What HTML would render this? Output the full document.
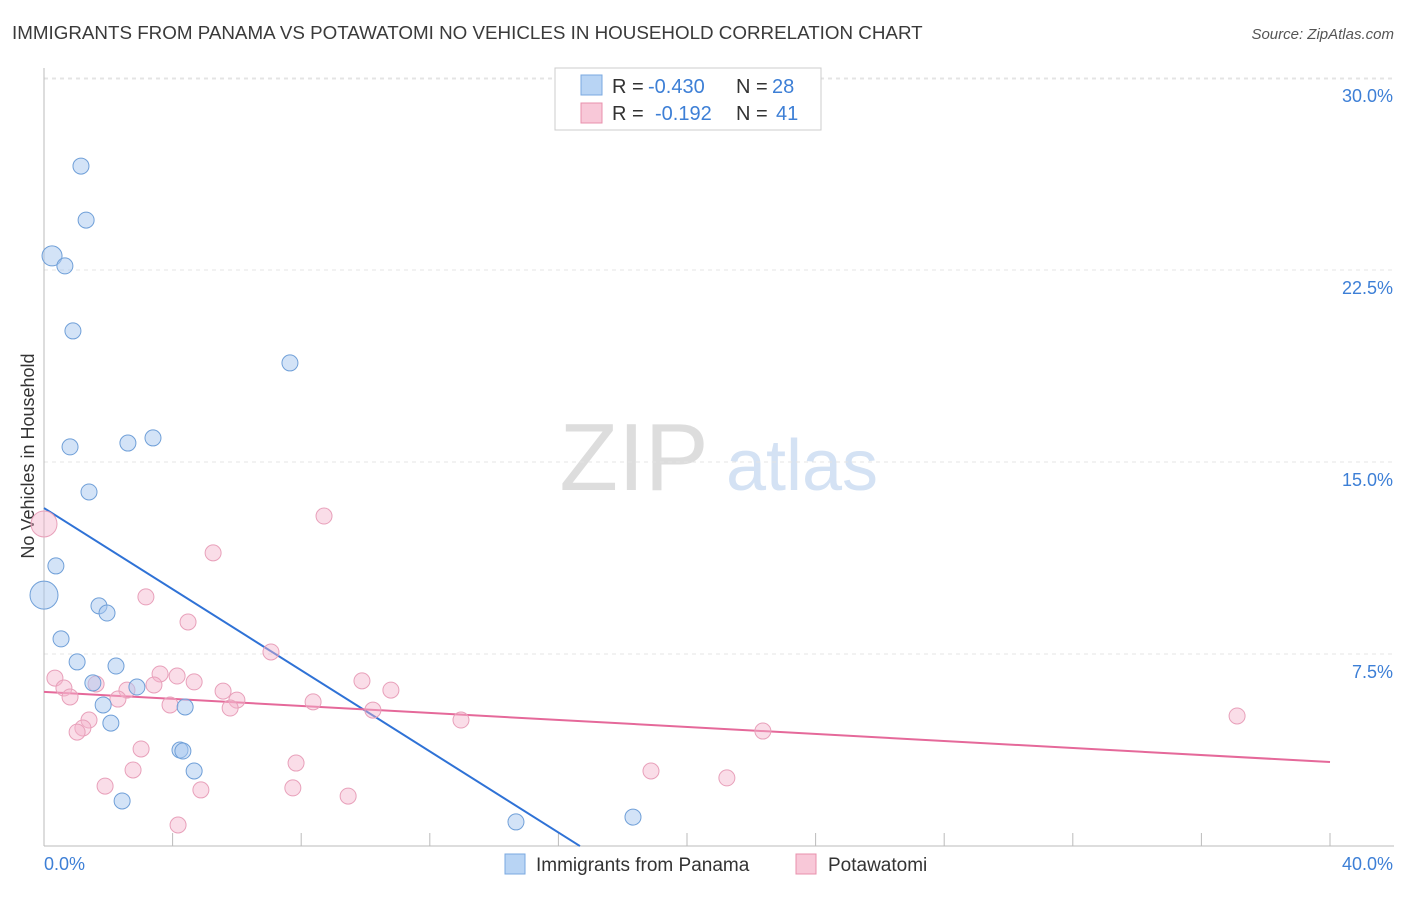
<!DOCTYPE html>
<html><head><meta charset="utf-8"><style>
body{margin:0;background:#fff;font-family:"Liberation Sans",sans-serif;}
svg text{font-family:"Liberation Sans",sans-serif;}
</style></head><body>
<svg id="chart" width="1406" height="892" viewBox="0 0 1406 892" xmlns="http://www.w3.org/2000/svg">
<text x="12" y="39" font-size="18.8" fill="#3a3a3a">IMMIGRANTS FROM PANAMA VS POTAWATOMI NO VEHICLES IN HOUSEHOLD CORRELATION CHART</text>
<text x="1394" y="39" font-size="15" fill="#555" text-anchor="end" font-style="italic">Source: ZipAtlas.com</text>
<text transform="translate(34,456) rotate(-90)" font-size="18" fill="#333" text-anchor="middle">No Vehicles in Household</text>
<g>
<text x="634" y="490" font-size="96" fill="#ddd" font-family="Liberation Serif" text-anchor="middle">ZIP</text>
<text x="802" y="490" font-size="72" fill="#d4e2f4" text-anchor="middle">atlas</text>
</g>
<g id="grid"></g><g id="axes"></g><g id="lines"></g><g id="pts"></g>
<g>
<rect x="555" y="68" width="266" height="62" fill="#fff" stroke="#ccc"/>
<rect x="581" y="75" width="21" height="20" fill="#b8d4f4" stroke="#7aa8e0"/>
<text x="612" y="93" font-size="20" fill="#333">R =</text>
<text x="648" y="93" font-size="20" fill="#3d7fd6">-0.430</text>
<text x="736" y="93" font-size="20" fill="#333">N =</text>
<text x="772" y="93" font-size="20" fill="#3d7fd6">28</text>
<rect x="581" y="103" width="21" height="20" fill="#f8c8d8" stroke="#e890ac"/>
<text x="612" y="120" font-size="20" fill="#333">R =</text>
<text x="655" y="120" font-size="20" fill="#3d7fd6">-0.192</text>
<text x="736" y="120" font-size="20" fill="#333">N =</text>
<text x="776" y="120" font-size="20" fill="#3d7fd6">41</text>
</g>
<g>
<rect x="505" y="854" width="20" height="20" fill="#b8d4f4" stroke="#7aa8e0"/>
<text x="536" y="871" font-size="19" fill="#333">Immigrants from Panama</text>
<rect x="796" y="854" width="20" height="20" fill="#f8c8d8" stroke="#e890ac"/>
<text x="828" y="871" font-size="19" fill="#333">Potawatomi</text>
</g>
</svg>
<script>
const yTicks=[7.5,15,22.5,30];
const yTickLabels=["7.5%","15.0%","22.5%","30.0%"];
const xTicks=[0,4,8,12,16,20,24,28,32,36,40];
const xEndLabels=["0.0%","40.0%"];
const blueX=[1.15,1.31,0.25,0.65,0.9,7.65,0.81,2.61,3.39,1.4,0.37,0,0.53,1.71,1.96,1.03,2.24,1.52,2.89,1.84,4.39,2.08,4.23,4.32,4.67,2.43,14.68,18.32];
const blueY=[26.56,24.45,23.05,22.66,20.12,18.87,15.59,15.74,15.94,13.83,10.94,9.8,8.09,9.38,9.1,7.19,7.03,6.37,6.21,5.51,5.43,4.8,3.75,3.71,2.93,1.76,0.94,1.13];
const blueR=[8,8,10,8,8,8,8,8,8,8,8,14,8,8,8,8,8,8,8,8,8,8,8,8,8,8,8,8];
const pinkX=[0,8.71,5.26,3.17,4.48,0.34,0.62,0.81,1.62,2.58,2.3,3.61,3.42,4.14,4.67,3.92,5.57,6.0,5.79,7.06,8.37,9.89,10.79,10.23,12.97,1.4,1.21,1.03,3.02,2.77,1.9,4.88,7.84,7.74,9.46,4.17,18.88,21.24,22.36,37.11];
const pinkY=[12.58,12.89,11.45,9.73,8.75,6.56,6.17,5.82,6.33,6.09,5.74,6.72,6.29,6.64,6.41,5.51,6.05,5.7,5.39,7.58,5.63,6.45,6.09,5.31,4.92,4.92,4.61,4.45,3.79,2.97,2.34,2.19,3.24,2.27,1.95,0.82,2.93,2.66,4.49,5.08];
const blueTrend=[13.2,-0.792];
const blueTrendEnd=16.67;
const pinkTrend=[6.02,-0.0685];
const NS="http://www.w3.org/2000/svg";
const X=v=>44+v*32.15, Y=v=>846-v*25.6;
function mk(tag,attrs,parent){const e=document.createElementNS(NS,tag);for(const k in attrs)e.setAttribute(k,attrs[k]);document.getElementById(parent).appendChild(e);return e;}
yTicks.forEach((t,i)=>{
 const g=mk('line',{x1:44,x2:1394,y1:Y(t),y2:Y(t),stroke:'#e4e4e4','stroke-dasharray':'4,4'},'grid');
 
 
 const tx=mk('text',{x:1393,y:Y(t)+24,'font-size':18,fill:'#3d7fd6','text-anchor':'end'},'axes');
 tx.textContent=yTickLabels[i];
 
 
});
const topLine=mk('line',{x1:44,x2:1394,y1:79,y2:79,stroke:'#e4e4e4','stroke-dasharray':'4,4'},'grid');


const ya=mk('line',{x1:44,x2:44,y1:68,y2:846,stroke:'#bbb'},'axes');


const xa=mk('line',{x1:44,x2:1394,y1:846,y2:846,stroke:'#bbb'},'axes');


xTicks.forEach(t=>{const l=mk('line',{x1:X(t),x2:X(t),y1:833,y2:846,stroke:'#bbb'},'axes');
 
 });
['start','end'].forEach((a,i)=>{const t=mk('text',{x:i?1393:44,y:870,'font-size':18,fill:'#3d7fd6','text-anchor':a},'axes');t.textContent=xEndLabels[i];
 
 });
const bl=mk('line',{x1:X(0),y1:Y(blueTrend[0]),x2:X(blueTrendEnd),y2:Y(blueTrend[0]+blueTrend[1]*blueTrendEnd),stroke:'#2f72d6','stroke-width':2},'lines');


const pl=mk('line',{x1:X(0),y1:Y(pinkTrend[0]),x2:X(40),y2:Y(pinkTrend[0]+pinkTrend[1]*40),stroke:'#e5699a','stroke-width':2},'lines');


pinkX.forEach((v,i)=>{const c=mk('circle',{cx:X(v),cy:Y(pinkY[i]),r:i==0?13:8,fill:'rgba(245,180,204,0.45)',stroke:'#e8a0ba','stroke-width':1},'pts');
 
 });
blueX.forEach((v,i)=>{const c=mk('circle',{cx:X(v),cy:Y(blueY[i]),r:blueR[i],fill:'rgba(168,200,240,0.5)',stroke:'#6f9fd8','stroke-width':1},'pts');
 
 });
</script>
</body></html>
